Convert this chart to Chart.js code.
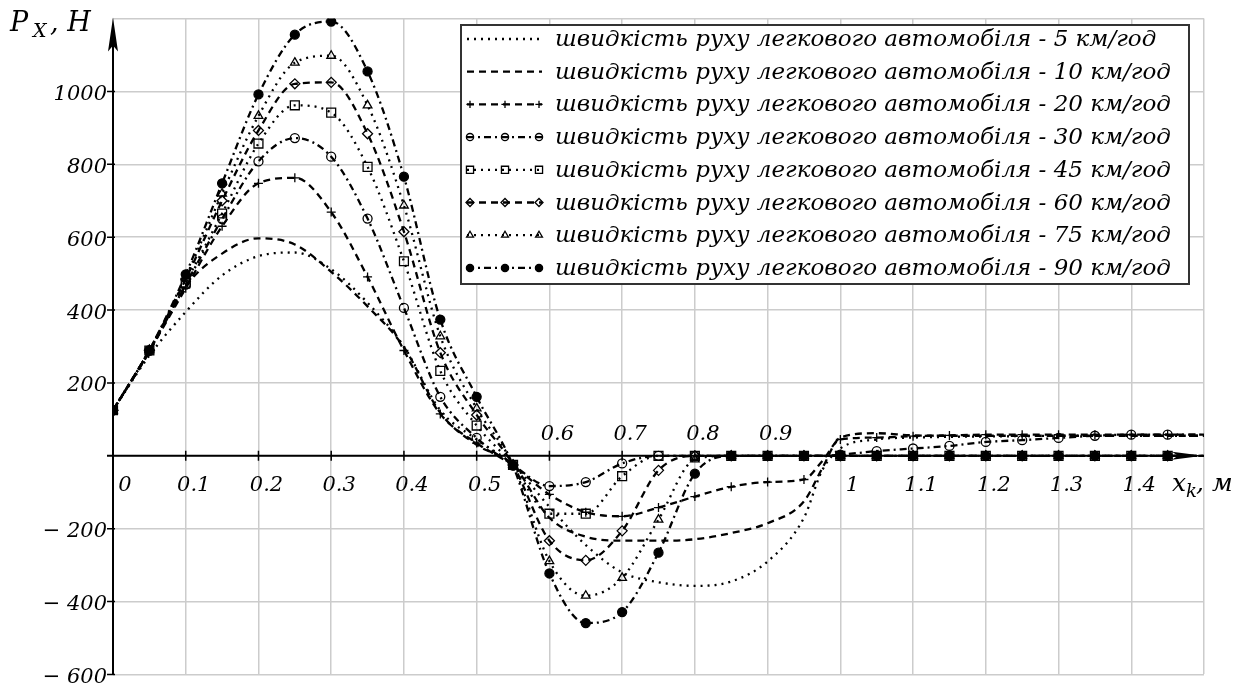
<!DOCTYPE html>
<html lang="uk">
<head>
<meta charset="UTF-8">
<title>Px(xk)</title>
<script src="https://cdn.jsdelivr.net/npm/chart.js"></script>
<style>
  html, body { margin: 0; padding: 0; background: #fff; }
</style>
</head>
<body>
<canvas id="pxChart" width="1256" height="693"></canvas>
<script>
  // x_k, m  (0.05 step, plus one extra point at 0.975 for the sharp rise)
  const xs = [0, 0.05, 0.1, 0.15, 0.2, 0.25, 0.3, 0.35, 0.4, 0.45, 0.5, 0.55, 0.6, 0.65, 0.7, 0.75,
              0.8, 0.85, 0.9, 0.95, 0.975, 1.0, 1.05, 1.1, 1.15, 1.2, 1.25, 1.3, 1.35, 1.4, 1.45, 1.5];

  // P_x, N for each speed
  const p5  = [125, 275, 395, 495, 548, 558, 512, 420, 300, 125, 45, -25, -140, -245, -320, -347,
               -357, -345, -290, -170, -40, 20, 45, 50, 52, 53, 54, 55, 55, 55, 55, 55];
  const p10 = [125, 285, 465, 555, 597, 580, 505, 410, 298, 118, 30, -25, -170, -222, -233, -233,
               -229, -212, -185, -125, -35, 50, 62, 56, 55, 55, 55, 55, 55, 55, 55, 55];
  const p20 = [125, 288, 460, 630, 748, 763, 669, 491, 289, 115, 35, -27, -106, -155, -166, -142,
               -112, -85, -72, -65, -15, 45, 50, 54, 56, 58, 58, 58, 58, 58, 58, 58];
  const p30 = [125, 288, 470, 650, 808, 872, 821, 651, 406, 162, 49, -25, -83, -72, -21, 0,
               0, 0, 0, 0, 0, 3, 13, 20, 27, 38, 43, 49, 55, 58, 58, 58];
  const p45 = [125, 289, 475, 665, 857, 962, 942, 793, 534, 233, 83, -25, -159, -159, -56, 0,
               0, 0, 0, 0, 0, 0, 0, 0, 0, 0, 0, 0, 0, 0, 0, 0];
  const p60 = [125, 290, 485, 700, 893, 1021, 1025, 884, 615, 283, 112, -25, -233, -287, -206, -40,
               0, 0, 0, 0, 0, 0, 0, 0, 0, 0, 0, 0, 0, 0, 0, 0];
  const p75 = [125, 290, 490, 720, 933, 1079, 1098, 962, 687, 328, 130, -25, -289, -384, -335, -175,
               -10, 0, 0, 0, 0, 0, 0, 0, 0, 0, 0, 0, 0, 0, 0, 0];
  const p90 = [125, 290, 498, 748, 992, 1156, 1192, 1055, 766, 374, 162, -27, -323, -459, -429, -266,
               -49, 0, 0, 0, 0, 0, 0, 0, 0, 0, 0, 0, 0, 0, 0, 0];

  const speeds = [5, 10, 20, 30, 45, 60, 75, 90];
  const series = [p5, p10, p20, p30, p45, p60, p75, p90];

  const xTicks = [0, 0.1, 0.2, 0.3, 0.4, 0.5, 0.6, 0.7, 0.8, 0.9, 1, 1.1, 1.2, 1.3, 1.4];
  const xTicksAbove = [0.6, 0.7, 0.8, 0.9];

  const DOT = [2, 5], DASH = [7, 5], DASHDOT = [7, 4, 2, 4];
  const styles = [
    { dash: DOT,     point: false },
    { dash: DASH,    point: false },
    { dash: DASH,    point: 'cross',    r: 4.5, fill: 'rgba(0,0,0,0)' },
    { dash: DASHDOT, point: 'circle',   r: 4.5, fill: 'rgba(0,0,0,0)' },
    { dash: DOT,     point: 'rect',     r: 6.3, fill: 'rgba(0,0,0,0)' },
    { dash: DASH,    point: 'rectRot',  r: 5,   fill: 'rgba(0,0,0,0)' },
    { dash: DOT,     point: 'triangle', r: 5,   fill: 'rgba(0,0,0,0)' },
    { dash: DASHDOT, point: 'circle',   r: 4.5, fill: '#000' }
  ];

  const SERIF = '"DejaVu Serif", "Liberation Serif", serif';

  // marker only at 0.05 multiples, not at the last point
  function hasMarker(x) {
    const k = Math.round(x * 20);
    return Math.abs(x * 20 - k) < 1e-6 && x < 1.49;
  }

  const datasets = series.map((vals, i) => {
    const st = styles[i];
    return {
      label: 'швидкість руху легкового автомобіля - ' + speeds[i] + ' км/год',
      data: xs.map((x, j) => ({ x: x, y: vals[j] })),
      borderColor: '#000',
      borderWidth: 2.3,
      borderDash: st.dash,
      cubicInterpolationMode: 'monotone',
      pointStyle: st.point || 'circle',
      pointRadius: st.point ? (c => hasMarker(c.raw.x) ? st.r : 0) : 0,
      pointBorderColor: '#000',
      pointBackgroundColor: st.fill || '#000',
      pointBorderWidth: 1.3,
      fill: false
    };
  });

  const axesPlugin = {
    id: 'axes',
    beforeDatasetsDraw(chart) {
      const { ctx, chartArea: a, scales: { x, y } } = chart;
      const x0 = x.getPixelForValue(0), y0 = y.getPixelForValue(0);
      ctx.save();
      ctx.strokeStyle = '#000';
      ctx.fillStyle = '#000';
      ctx.lineWidth = 2;
      ctx.beginPath();
      ctx.moveTo(x0, a.bottom);
      ctx.lineTo(x0, a.top + 20);
      ctx.moveTo(x0 - 6, y0);
      ctx.lineTo(a.right - 20, y0);
      ctx.stroke();
      // arrow heads
      ctx.beginPath();
      ctx.moveTo(x0, a.top - 1);
      ctx.lineTo(x0 - 5, a.top + 33);
      ctx.lineTo(x0, a.top + 27);
      ctx.lineTo(x0 + 5, a.top + 33);
      ctx.closePath();
      ctx.fill();
      ctx.beginPath();
      ctx.moveTo(a.right - 1, y0);
      ctx.lineTo(a.right - 32, y0 - 4);
      ctx.lineTo(a.right - 26, y0);
      ctx.lineTo(a.right - 32, y0 + 4);
      ctx.closePath();
      ctx.fill();
      // tick marks
      ctx.lineWidth = 1.5;
      ctx.beginPath();
      xTicks.forEach(v => {
        if (v === 0) return;
        const px = x.getPixelForValue(v);
        ctx.moveTo(px, y0 - 5);
        ctx.lineTo(px, y0 + 5);
      });
      y.ticks.forEach(t => {
        if (t.value === 0 || t.value === y.max) return;
        const py = y.getPixelForValue(t.value);
        ctx.moveTo(x0 - 6, py);
        ctx.lineTo(x0 + 2, py);
      });
      ctx.stroke();
      // x tick labels sit next to the axis
      ctx.font = 'italic 21px ' + SERIF;
      ctx.textAlign = 'center';
      ctx.textBaseline = 'alphabetic';
      xTicks.forEach(v => {
        const txt = String(v);
        const px = x.getPixelForValue(v) + (txt.length === 1 ? 12 : 8);
        const above = xTicksAbove.includes(v);
        ctx.fillText(txt, px, above ? y0 - 16 : y0 + 35);
      });
      // axis titles
      ctx.textAlign = 'left';
      ctx.font = 'italic 27px ' + SERIF;
      ctx.fillText('P', 10, 31);
      ctx.font = 'italic 19px ' + SERIF;
      ctx.fillText('X', 33, 37);
      ctx.font = 'italic 27px ' + SERIF;
      ctx.fillText(', H', 50, 31);
      ctx.font = 'italic 25px ' + SERIF;
      ctx.fillText('x', 1172, 491);
      ctx.font = 'italic 18px ' + SERIF;
      ctx.fillText('k', 1186, 497);
      ctx.font = 'italic 25px ' + SERIF;
      ctx.fillText(', м', 1196, 491);
      ctx.restore();
    }
  };

  const legendPlugin = {
    id: 'boxLegend',
    afterDatasetsDraw(chart) {
      const ctx = chart.ctx;
      const left = 461, top = 25, w = 728, h = 259;
      ctx.save();
      ctx.fillStyle = '#fff';
      ctx.fillRect(left, top, w, h);
      ctx.strokeStyle = '#333';
      ctx.lineWidth = 2;
      ctx.strokeRect(left, top, w, h);
      chart.data.datasets.forEach((ds, i) => {
        const st = styles[i];
        const cy = top + 14 + i * 32.7;
        ctx.strokeStyle = '#000';
        ctx.lineWidth = 2.3;
        ctx.setLineDash(ds.borderDash);
        ctx.beginPath();
        ctx.moveTo(467, cy);
        ctx.lineTo(542, cy);
        ctx.stroke();
        ctx.setLineDash([]);
        if (st.point) {
          ctx.fillStyle = st.fill;
          ctx.lineWidth = 1.3;
          [470, 505, 539].forEach(px => {
            Chart.helpers.drawPoint(ctx, { pointStyle: st.point, radius: st.r * 0.8, rotation: 0, borderWidth: 1.3 }, px, cy);
          });
        }
        ctx.fillStyle = '#000';
        ctx.font = 'italic 23px ' + SERIF;
        ctx.textAlign = 'left';
        ctx.textBaseline = 'alphabetic';
        ctx.fillText(ds.label, 555, cy + 7);
      });
      ctx.restore();
    }
  };

  new Chart(document.getElementById('pxChart').getContext('2d'), {
    type: 'line',
    data: { datasets: datasets },
    options: {
      responsive: false,
      devicePixelRatio: 1,
      animation: false,
      events: [],
      layout: { padding: { left: 0, right: 52, top: 11, bottom: 14 } },
      plugins: { legend: { display: false }, tooltip: { enabled: false } },
      scales: {
        x: {
          type: 'linear',
          min: 0,
          max: 1.5,
          ticks: { display: false, stepSize: 0.1 },
          grid: { color: '#cccccc', lineWidth: 1.5, drawTicks: false },
          border: { display: false },
          afterFit: s => { s.height = 0; }
        },
        y: {
          min: -600,
          max: 1200,
          ticks: {
            stepSize: 200,
            color: '#000',
            padding: 6,
            labelOffset: 3,
            font: { family: SERIF, style: 'italic', size: 21 },
            callback: v => (v === 0 || v === 1200) ? '' : (v < 0 ? '− ' + (-v) : String(v))
          },
          grid: { color: '#cccccc', lineWidth: 1.5, drawTicks: false },
          border: { display: false },
          afterFit: s => { s.width = 113; }
        }
      }
    },
    plugins: [axesPlugin, legendPlugin]
  });
</script>
</body>
</html>
